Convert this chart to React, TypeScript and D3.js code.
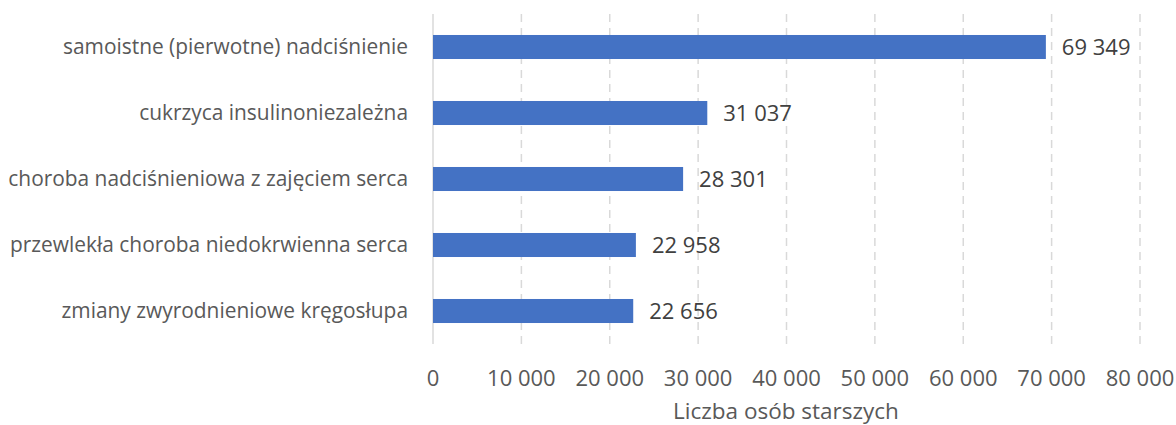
import React from "react";
import * as d3 from "d3";

const categories = [
  "samoistne (pierwotne) nadciśnienie",
  "cukrzyca insulinoniezależna",
  "choroba nadciśnieniowa z zajęciem serca",
  "przewlekła choroba niedokrwienna serca",
  "zmiany zwyrodnieniowe kręgosłupa",
];
const values = [69349, 31037, 28301, 22958, 22656];
const ticks = [0, 10000, 20000, 30000, 40000, 50000, 60000, 70000, 80000];
const axisTitle = "Liczba osób starszych";

const W = 1176;
const H = 425;
const FONT = "'Open Sans', sans-serif";

const fmt = (v: number) => d3.format(",")(v).replace(/,/g, " ");

export default function App() {
  const x = d3.scaleLinear().domain([0, 80000]).range([433, 1140]);
  const y = d3.scaleBand().domain(categories).range([14, 344]).paddingInner(0.636).paddingOuter(0.318);
  return (
    <svg width={W} height={H} style={{ position: "absolute", left: 0, top: 0, background: "#fff" }}>
      {ticks.map((t) =>
        t === 0 ? null : (
          <line key={t} x1={x(t)} x2={x(t)} y1={14} y2={344} stroke="#d9d9d9" strokeWidth={1.5} strokeDasharray="8,6" />
        )
      )}
      <line x1={x(0)} x2={x(0)} y1={14} y2={344} stroke="#d9d9d9" strokeWidth={1.5} />
      {categories.map((c, i) => (
        <g key={c}>
          <rect x={x(0)} y={y(c)} width={x(values[i]) - x(0)} height={y.bandwidth()} fill="#4472c4" />
          <text
            x={x(values[i]) + 16}
            y={(y(c) as number) + y.bandwidth() / 2}
            dy="0.35em"
            fontFamily={FONT}
            fontSize={22}
            fill="#404040"
          >
            {fmt(values[i])}
          </text>
          <text
            x={408}
            y={(y(c) as number) + y.bandwidth() / 2}
            dy="0.35em"
            textAnchor="end"
            fontFamily={FONT}
            fontSize={20.9}
            fill="#595959"
          >
            {c}
          </text>
        </g>
      ))}
      {ticks.map((t) => (
        <text key={"l" + t} x={x(t)} y={378} dy="0.35em" textAnchor="middle" fontFamily={FONT} fontSize={22} fill="#595959">
          {fmt(t)}
        </text>
      ))}
      <text x={786} y={411.5} dy="0.35em" textAnchor="middle" fontFamily={FONT} fontSize={22.5} fill="#595959">
        {axisTitle}
      </text>
    </svg>
  );
}
